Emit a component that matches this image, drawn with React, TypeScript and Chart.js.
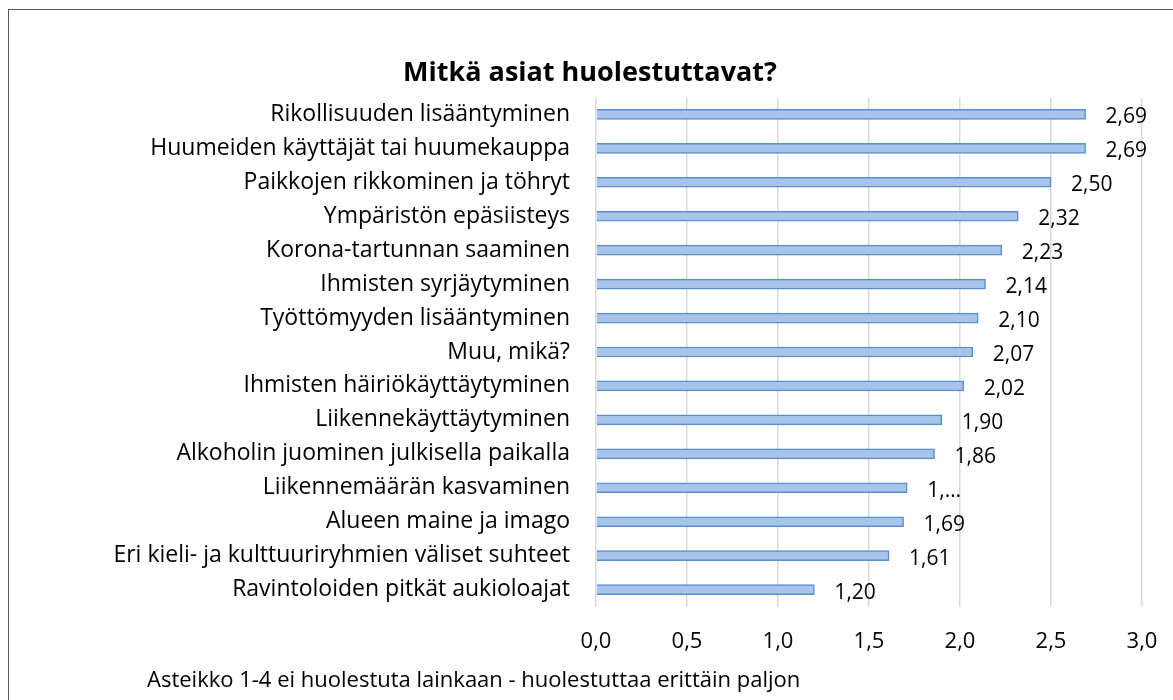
import React, { useEffect, useRef } from "react";
import { Chart, registerables } from "chart.js";

Chart.register(...registerables);

const categories = [
  "Rikollisuuden lisääntyminen",
  "Huumeiden käyttäjät tai huumekauppa",
  "Paikkojen rikkominen ja töhryt",
  "Ympäristön epäsiisteys",
  "Korona-tartunnan saaminen",
  "Ihmisten syrjäytyminen",
  "Työttömyyden lisääntyminen",
  "Muu, mikä?",
  "Ihmisten häiriökäyttäytyminen",
  "Liikennekäyttäytyminen",
  "Alkoholin juominen julkisella paikalla",
  "Liikennemäärän kasvaminen",
  "Alueen maine ja imago",
  "Eri kieli- ja kulttuuriryhmien väliset suhteet",
  "Ravintoloiden pitkät aukioloajat",
];

const values = [2.69, 2.69, 2.5, 2.32, 2.23, 2.14, 2.1, 2.07, 2.02, 1.9, 1.86, 1.71, 1.69, 1.61, 1.2];

const valueLabels = ["2,69", "2,69", "2,50", "2,32", "2,23", "2,14", "2,10", "2,07", "2,02", "1,90", "1,86", "1,…", "1,69", "1,61", "1,20"];

const xTicks = { min: 0, max: 3, step: 0.5 };

const titleText = "Mitkä asiat huolestuttavat?";
const noteText = "Asteikko 1-4 ei huolestuta lainkaan - huolestuttaa erittäin paljon";

const FONT = "'Open Sans', 'Noto Sans', sans-serif";

const dataLabelPlugin = {
  id: "dataLabels",
  afterDatasetsDraw(chart: any) {
    const ctx = chart.ctx;
    const meta = chart.getDatasetMeta(0);
    ctx.save();
    ctx.font = `21px ${FONT}`;
    ctx.fillStyle = "#000000";
    ctx.textAlign = "left";
    ctx.textBaseline = "middle";
    meta.data.forEach((el: any, i: number) => {
      ctx.fillText(valueLabels[i], el.x + 20, el.y + 3);
    });
    ctx.restore();
  },
};

export default function App() {
  const ref = useRef<HTMLCanvasElement | null>(null);

  useEffect(() => {
    if (!ref.current) return;
    const chart = new Chart(ref.current, {
      type: "bar",
      data: {
        labels: categories,
        datasets: [
          {
            data: values,
            backgroundColor: "#a9c4e9",
            borderColor: "#5a8ed0",
            borderWidth: 1.5,
            barThickness: 10,
          },
        ],
      },
      options: {
        indexAxis: "y",
        animation: false,
        responsive: false,
        maintainAspectRatio: false,
        layout: { padding: { left: 38, right: 31, top: 0, bottom: 23 } },
        plugins: {
          legend: { display: false },
          tooltip: { enabled: false },
          title: {
            display: true,
            text: titleText,
            color: "#000000",
            font: { family: FONT, size: 27, weight: "bold" },
            padding: { top: 57, bottom: 8 },
          },
        },
        scales: {
          x: {
            min: xTicks.min,
            max: xTicks.max,
            ticks: {
              stepSize: xTicks.step,
              color: "#000000",
              font: { family: FONT, size: 22 },
              padding: 22,
              callback: (v: any) => Number(v).toFixed(1).replace(".", ","),
            },
            grid: { color: "#d9d9d9", lineWidth: 1.5, drawTicks: false },
            border: { display: false },
            afterFit: (scale: any) => {
              scale.paddingLeft = 0;
              scale.paddingRight = 0;
            },
          },
          y: {
            ticks: {
              color: "#000000",
              font: { family: FONT, size: 23 },
              padding: 26,
            },
            grid: { display: false, drawTicks: false },
            border: { display: false },
            afterFit: (scale: any) => {
              scale.width = 558;
            },
          },
        },
      },
      plugins: [dataLabelPlugin],
    });
    return () => chart.destroy();
  }, []);

  return (
    <div
      style={{
        position: "fixed",
        left: 0,
        top: 0,
        width: 1173,
        height: 700,
        overflow: "hidden",
        background: "#ffffff",
      }}
    >
      <div
        style={{
          position: "absolute",
          left: 8,
          top: 9,
          width: 1200,
          height: 720,
          borderTop: "1.5px solid #595959",
          borderLeft: "1.5px solid #595959",
          boxSizing: "border-box",
        }}
      />
      <canvas ref={ref} width={1173} height={700} style={{ position: "absolute", left: 0, top: 0 }} />
      <div
        style={{
          position: "absolute",
          left: 147,
          top: 663,
          fontFamily: FONT,
          fontSize: 22,
          lineHeight: "30px",
          color: "#000000",
          whiteSpace: "nowrap",
        }}
      >
        {noteText}
      </div>
    </div>
  );
}
